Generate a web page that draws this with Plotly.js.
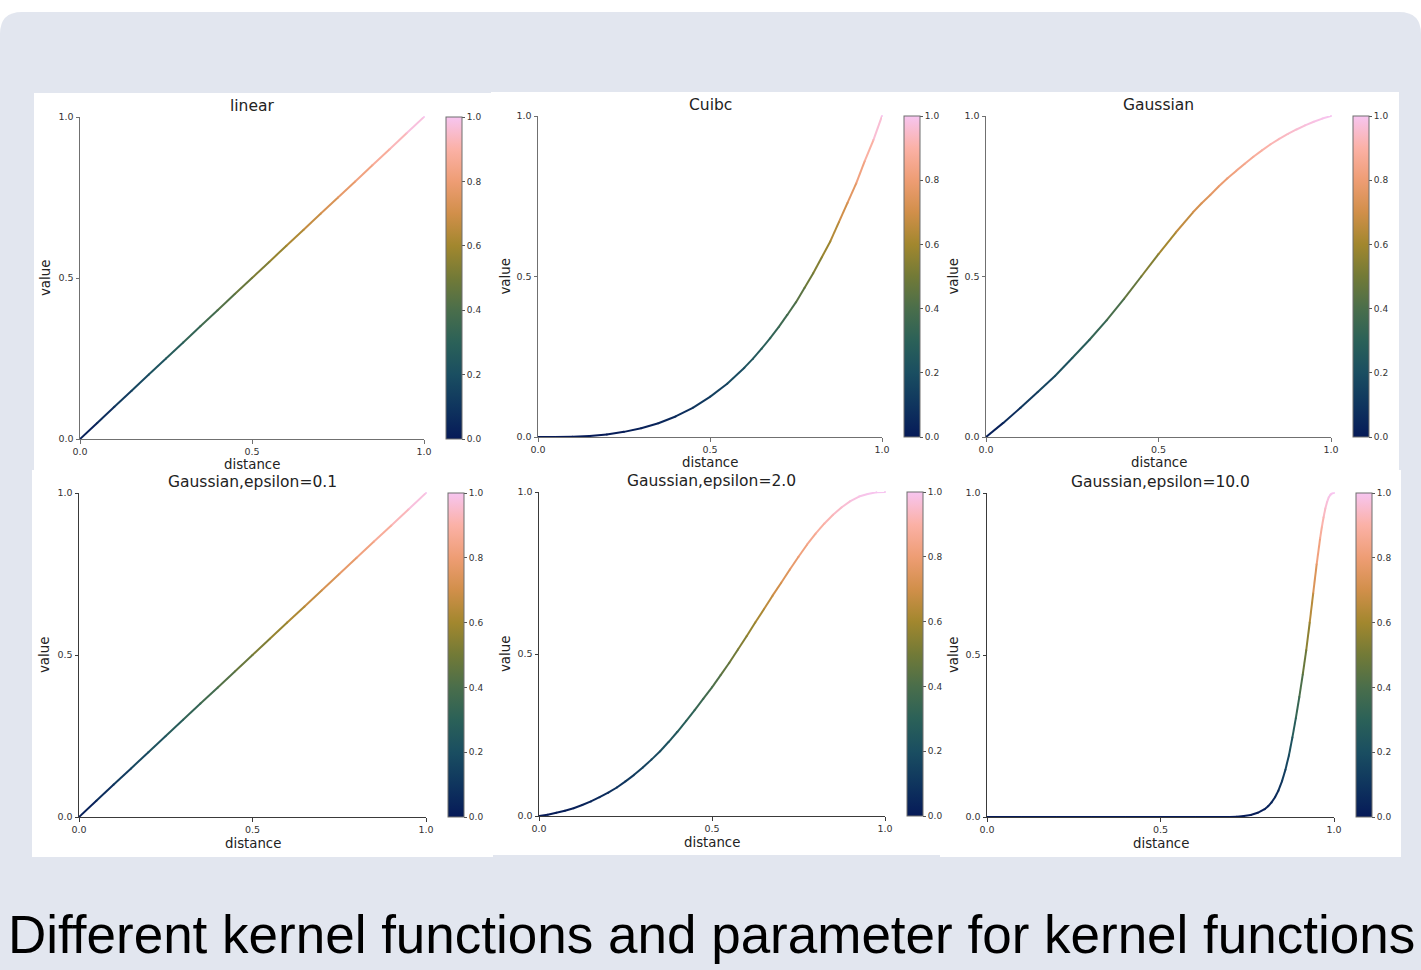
<!DOCTYPE html>
<html>
<head>
<meta charset="utf-8">
<script src="https://cdn.plot.ly/plotly-3.0.1.min.js"></script>
<style>
html,body{margin:0;padding:0;background:#ffffff;}
#chart{width:1421px;height:970px;}
</style>
</head>
<body>
<div id="chart"></div>
<script>
// ---------------- data ----------------
const linearDistance = [0,0.05,0.1,0.15,0.2,0.25,0.3,0.35,0.4,0.45,0.5,0.55,0.6,0.65,0.7,0.75,0.8,0.85,0.9,0.95,1.0];
const linearValues   = [0,0.05,0.1,0.15,0.2,0.25,0.3,0.35,0.4,0.45,0.5,0.55,0.6,0.65,0.7,0.75,0.8,0.85,0.9,0.95,1.0];

const cubicDistance = [0,0.05,0.1,0.15,0.2,0.25,0.3,0.35,0.4,0.45,0.5,0.55,0.6,0.625,0.65,0.675,0.7,0.725,0.75,0.775,0.8,0.825,0.85,0.875,0.9,0.925,0.95,0.975,1.0];
const cubicValues   = [0,0.000,0.001,0.003,0.008,0.016,0.027,0.043,0.064,0.091,0.125,0.166,0.216,0.244,0.275,0.308,0.343,0.381,0.42,0.465,0.51,0.56,0.61,0.67,0.73,0.79,0.86,0.925,1.0];

const gaussianDistance = [0,0.05,0.1,0.15,0.2,0.25,0.3,0.35,0.4,0.45,0.5,0.55,0.6,0.625,0.65,0.675,0.7,0.725,0.75,0.775,0.8,0.825,0.85,0.875,0.9,0.925,0.95,0.975,1.0];
const gaussianValues   = [0,0.044,0.091,0.14,0.19,0.246,0.303,0.364,0.43,0.50,0.57,0.637,0.70,0.728,0.754,0.781,0.806,0.829,0.851,0.873,0.893,0.912,0.929,0.944,0.958,0.971,0.982,0.992,1.0];

const eps01Distance = [0,0.05,0.1,0.15,0.2,0.25,0.3,0.35,0.4,0.45,0.5,0.55,0.6,0.65,0.7,0.75,0.8,0.85,0.9,0.95,1.0];
const eps01Values   = [0,0.05,0.1,0.15,0.2,0.25,0.3,0.35,0.4,0.45,0.5,0.55,0.6,0.65,0.7,0.75,0.8,0.85,0.9,0.95,1.0];

const eps2Distance = [0,0.025,0.05,0.075,0.1,0.125,0.15,0.175,0.2,0.225,0.25,0.275,0.3,0.325,0.35,0.375,0.4,0.425,0.45,0.475,0.5,0.525,0.55,0.575,0.6,0.625,0.65,0.675,0.7,0.725,0.75,0.775,0.8,0.825,0.85,0.875,0.9,0.925,0.95,0.975,1.0];
const eps2Values   = [0,0.004,0.01,0.016,0.024,0.034,0.045,0.058,0.072,0.088,0.107,0.127,0.150,0.174,0.200,0.229,0.260,0.293,0.327,0.362,0.397,0.435,0.473,0.514,0.555,0.597,0.638,0.68,0.72,0.761,0.80,0.838,0.872,0.903,0.93,0.953,0.972,0.986,0.994,0.999,1.0];

const eps10Distance = [0,0.1,0.2,0.3,0.4,0.5,0.6,0.7,0.72,0.74,0.76,0.78,0.8,0.81,0.82,0.83,0.84,0.85,0.86,0.87,0.88,0.89,0.9,0.91,0.92,0.93,0.94,0.95,0.96,0.965,0.97,0.975,0.98,0.985,0.99,0.995,1.0];
const eps10Values   = [0,0,0,0,0,0,0,0,0.001,0.003,0.006,0.013,0.024,0.033,0.045,0.061,0.082,0.11,0.146,0.19,0.245,0.305,0.37,0.44,0.515,0.60,0.69,0.78,0.86,0.895,0.925,0.952,0.972,0.987,0.995,0.999,1.0];

const panelTitles = ['linear','Cuibc','Gaussian','Gaussian,epsilon=0.1','Gaussian,epsilon=2.0','Gaussian,epsilon=10.0'];
const xAxisLabel = 'distance';
const yAxisLabel = 'value';
const axisTickVals = [0,0.5,1];
const axisTickText = ['0.0','0.5','1.0'];
const barTickVals = [0,0.2,0.4,0.6,0.8,1.0];
const barTickText = ['0.0','0.2','0.4','0.6','0.8','1.0'];
const captionText = 'Different kernel functions and parameter for kernel functions';

const seriesX = [linearDistance, cubicDistance, gaussianDistance, eps01Distance, eps2Distance, eps10Distance];
const seriesY = [linearValues, cubicValues, gaussianValues, eps01Values, eps2Values, eps10Values];

// ---------------- styling / layout ----------------
const W = 1421, H = 970;
const colorscale = [[0,'#061A58'],[0.1,'#0F355E'],[0.2,'#1A4E61'],[0.3,'#2B6158'],[0.4,'#4A6E4B'],[0.5,'#727A37'],[0.6,'#A2872E'],[0.7,'#D18F4A'],[0.8,'#EE9D74'],[0.9,'#FBB1A6'],[1.0,'#F7C5F0']];

function hexToRgb(h){return [parseInt(h.slice(1,3),16),parseInt(h.slice(3,5),16),parseInt(h.slice(5,7),16)];}
function colorAt(v){
  v = Math.max(0, Math.min(1, v));
  for (let i=0;i<colorscale.length-1;i++){
    const a=colorscale[i], b=colorscale[i+1];
    if (v<=b[0]){
      const t=(v-a[0])/(b[0]-a[0]);
      const ca=hexToRgb(a[1]), cb=hexToRgb(b[1]);
      return 'rgb('+ca.map((c,k)=>Math.round(c+(cb[k]-c)*t)).join(',')+')';
    }
  }
  return colorscale[colorscale.length-1][1];
}

// pixel geometry: axes [left,right,top,bottom], colorbar [left,top,bottom]
const panels = [
  {ax:[80,424,117,439],  cb:[446,117,439], title:[252,106], ylab:45,  xlabY:464, line:'#707070'},
  {ax:[538,882,116,437], cb:[904,116,437], title:[710,105], ylab:505, xlabY:462, line:'#707070'},
  {ax:[986,1331,116,437],cb:[1353,116,437],title:[1158,105],ylab:953, xlabY:462, line:'#707070'},
  {ax:[79,426,493,817],  cb:[448,493,817], title:[252,482], ylab:44,  xlabY:843, line:'#3a3a3a'},
  {ax:[539,885,492,816], cb:[907,492,816], title:[711,481], ylab:505, xlabY:842, line:'#3a3a3a'},
  {ax:[987,1334,493,817],cb:[1356,493,817],title:[1160,482],ylab:953, xlabY:843, line:'#3a3a3a'}
];

const FONT = 'DejaVu Sans, Verdana, sans-serif';
const traces = [];
const layout = {
  width: W, height: H,
  margin: {l:0,r:0,t:0,b:0},
  paper_bgcolor: '#ffffff',
  plot_bgcolor: 'rgba(0,0,0,0)',
  showlegend: false,
  shapes: [], annotations: []
};

// background slide with rounded top corners
const cornerR = 22, slideTop = 12;
const rx = cornerR/W, ry = cornerR/H, ty = 1 - slideTop/H;
layout.shapes.push({type:'path', xref:'paper', yref:'paper', layer:'below',
  path: `M 0 ${ty-ry} Q 0 ${ty} ${rx} ${ty} L ${1-rx} ${ty} Q 1 ${ty} 1 ${ty-ry} L 1 0 L 0 0 Z`,
  fillcolor:'#E2E6EF', line:{width:0}});
// white figure panels
const whitePanels = [[34,491,93,470],[491,1399,92,470],[32,493,470,857],[493,940,468,855],[940,1401,470,857]];
whitePanels.forEach(p=>{
  layout.shapes.push({type:'rect', xref:'paper', yref:'paper', layer:'below',
    x0:p[0]/W, x1:p[1]/W, y0:1-p[3]/H, y1:1-p[2]/H, fillcolor:'#ffffff', line:{width:0}});
});

panels.forEach((p,i)=>{
  const s = i===0 ? '' : String(i+1);
  const xs = seriesX[i], ys = seriesY[i];
  const axisCommon = {
    range:[0,1], showline:true, linecolor:p.line, linewidth:1, mirror:false,
    ticks:'outside', ticklen:3.5, tickwidth:1, tickcolor:p.line,
    tickvals:axisTickVals, ticktext:axisTickText,
    tickfont:{family:FONT, size:9.5, color:'#333'},
    showgrid:false, zeroline:false, fixedrange:true
  };
  layout['xaxis'+s] = Object.assign({domain:[p.ax[0]/W, p.ax[1]/W], anchor:'y'+s}, axisCommon);
  layout['yaxis'+s] = Object.assign({domain:[1-p.ax[3]/H, 1-p.ax[2]/H], anchor:'x'+s}, axisCommon);
  // gradient line as coloured segments
  for (let j=0;j<xs.length-1;j++){
    traces.push({type:'scatter', mode:'lines', x:[xs[j],xs[j+1]], y:[ys[j],ys[j+1]],
      xaxis:'x'+s, yaxis:'y'+s, cliponaxis:false, hoverinfo:'skip', showlegend:false,
      line:{color:colorAt((ys[j]+ys[j+1])/2), width:2}});
  }
  // points carrying the colour scale + colour bar
  traces.push({type:'scatter', mode:'markers', x:xs, y:ys, xaxis:'x'+s, yaxis:'y'+s,
    cliponaxis:false, showlegend:false, hoverinfo:'x+y',
    marker:{size:2, color:ys, colorscale:colorscale, cmin:0, cmax:1, showscale:true,
      colorbar:{x:p.cb[0]/W, xanchor:'left', xpad:0, ypad:0,
        y:1-p.cb[1]/H, yanchor:'top', len:p.cb[2]-p.cb[1], lenmode:'pixels',
        thickness:16, thicknessmode:'pixels', outlinewidth:1, outlinecolor:'#6e6e6e', borderwidth:0,
        ticks:'outside', ticklen:3, tickwidth:1, tickcolor:'#555',
        tickvals:barTickVals, ticktext:barTickText,
        tickfont:{family:FONT, size:9, color:'#333'}}}});
  // titles
  layout.annotations.push({xref:'paper', yref:'paper', x:p.title[0]/W, y:1-p.title[1]/H,
    text:panelTitles[i], showarrow:false, xanchor:'center', yanchor:'middle',
    font:{family:FONT, size:15.5, color:'#222'}});
  layout.annotations.push({xref:'paper', yref:'paper', x:p.ylab/W, y:1-((p.ax[2]+p.ax[3])/2)/H,
    text:yAxisLabel, showarrow:false, textangle:-90, xanchor:'center', yanchor:'middle',
    font:{family:FONT, size:13.3, color:'#222'}});
  layout.annotations.push({xref:'paper', yref:'paper', x:((p.ax[0]+p.ax[1])/2)/W, y:1-p.xlabY/H,
    text:xAxisLabel, showarrow:false, xanchor:'center', yanchor:'middle',
    font:{family:FONT, size:13.3, color:'#222'}});
});

layout.annotations.push({xref:'paper', yref:'paper', x:711/W, y:1-934/H,
  text:captionText, showarrow:false, xanchor:'center', yanchor:'middle',
  font:{family:'Liberation Sans Narrow, Liberation Sans, Arial, sans-serif', size:53, color:'#000'}});

Plotly.newPlot('chart', traces, layout, {displayModeBar:false, staticPlot:true});
</script>
</body>
</html>
